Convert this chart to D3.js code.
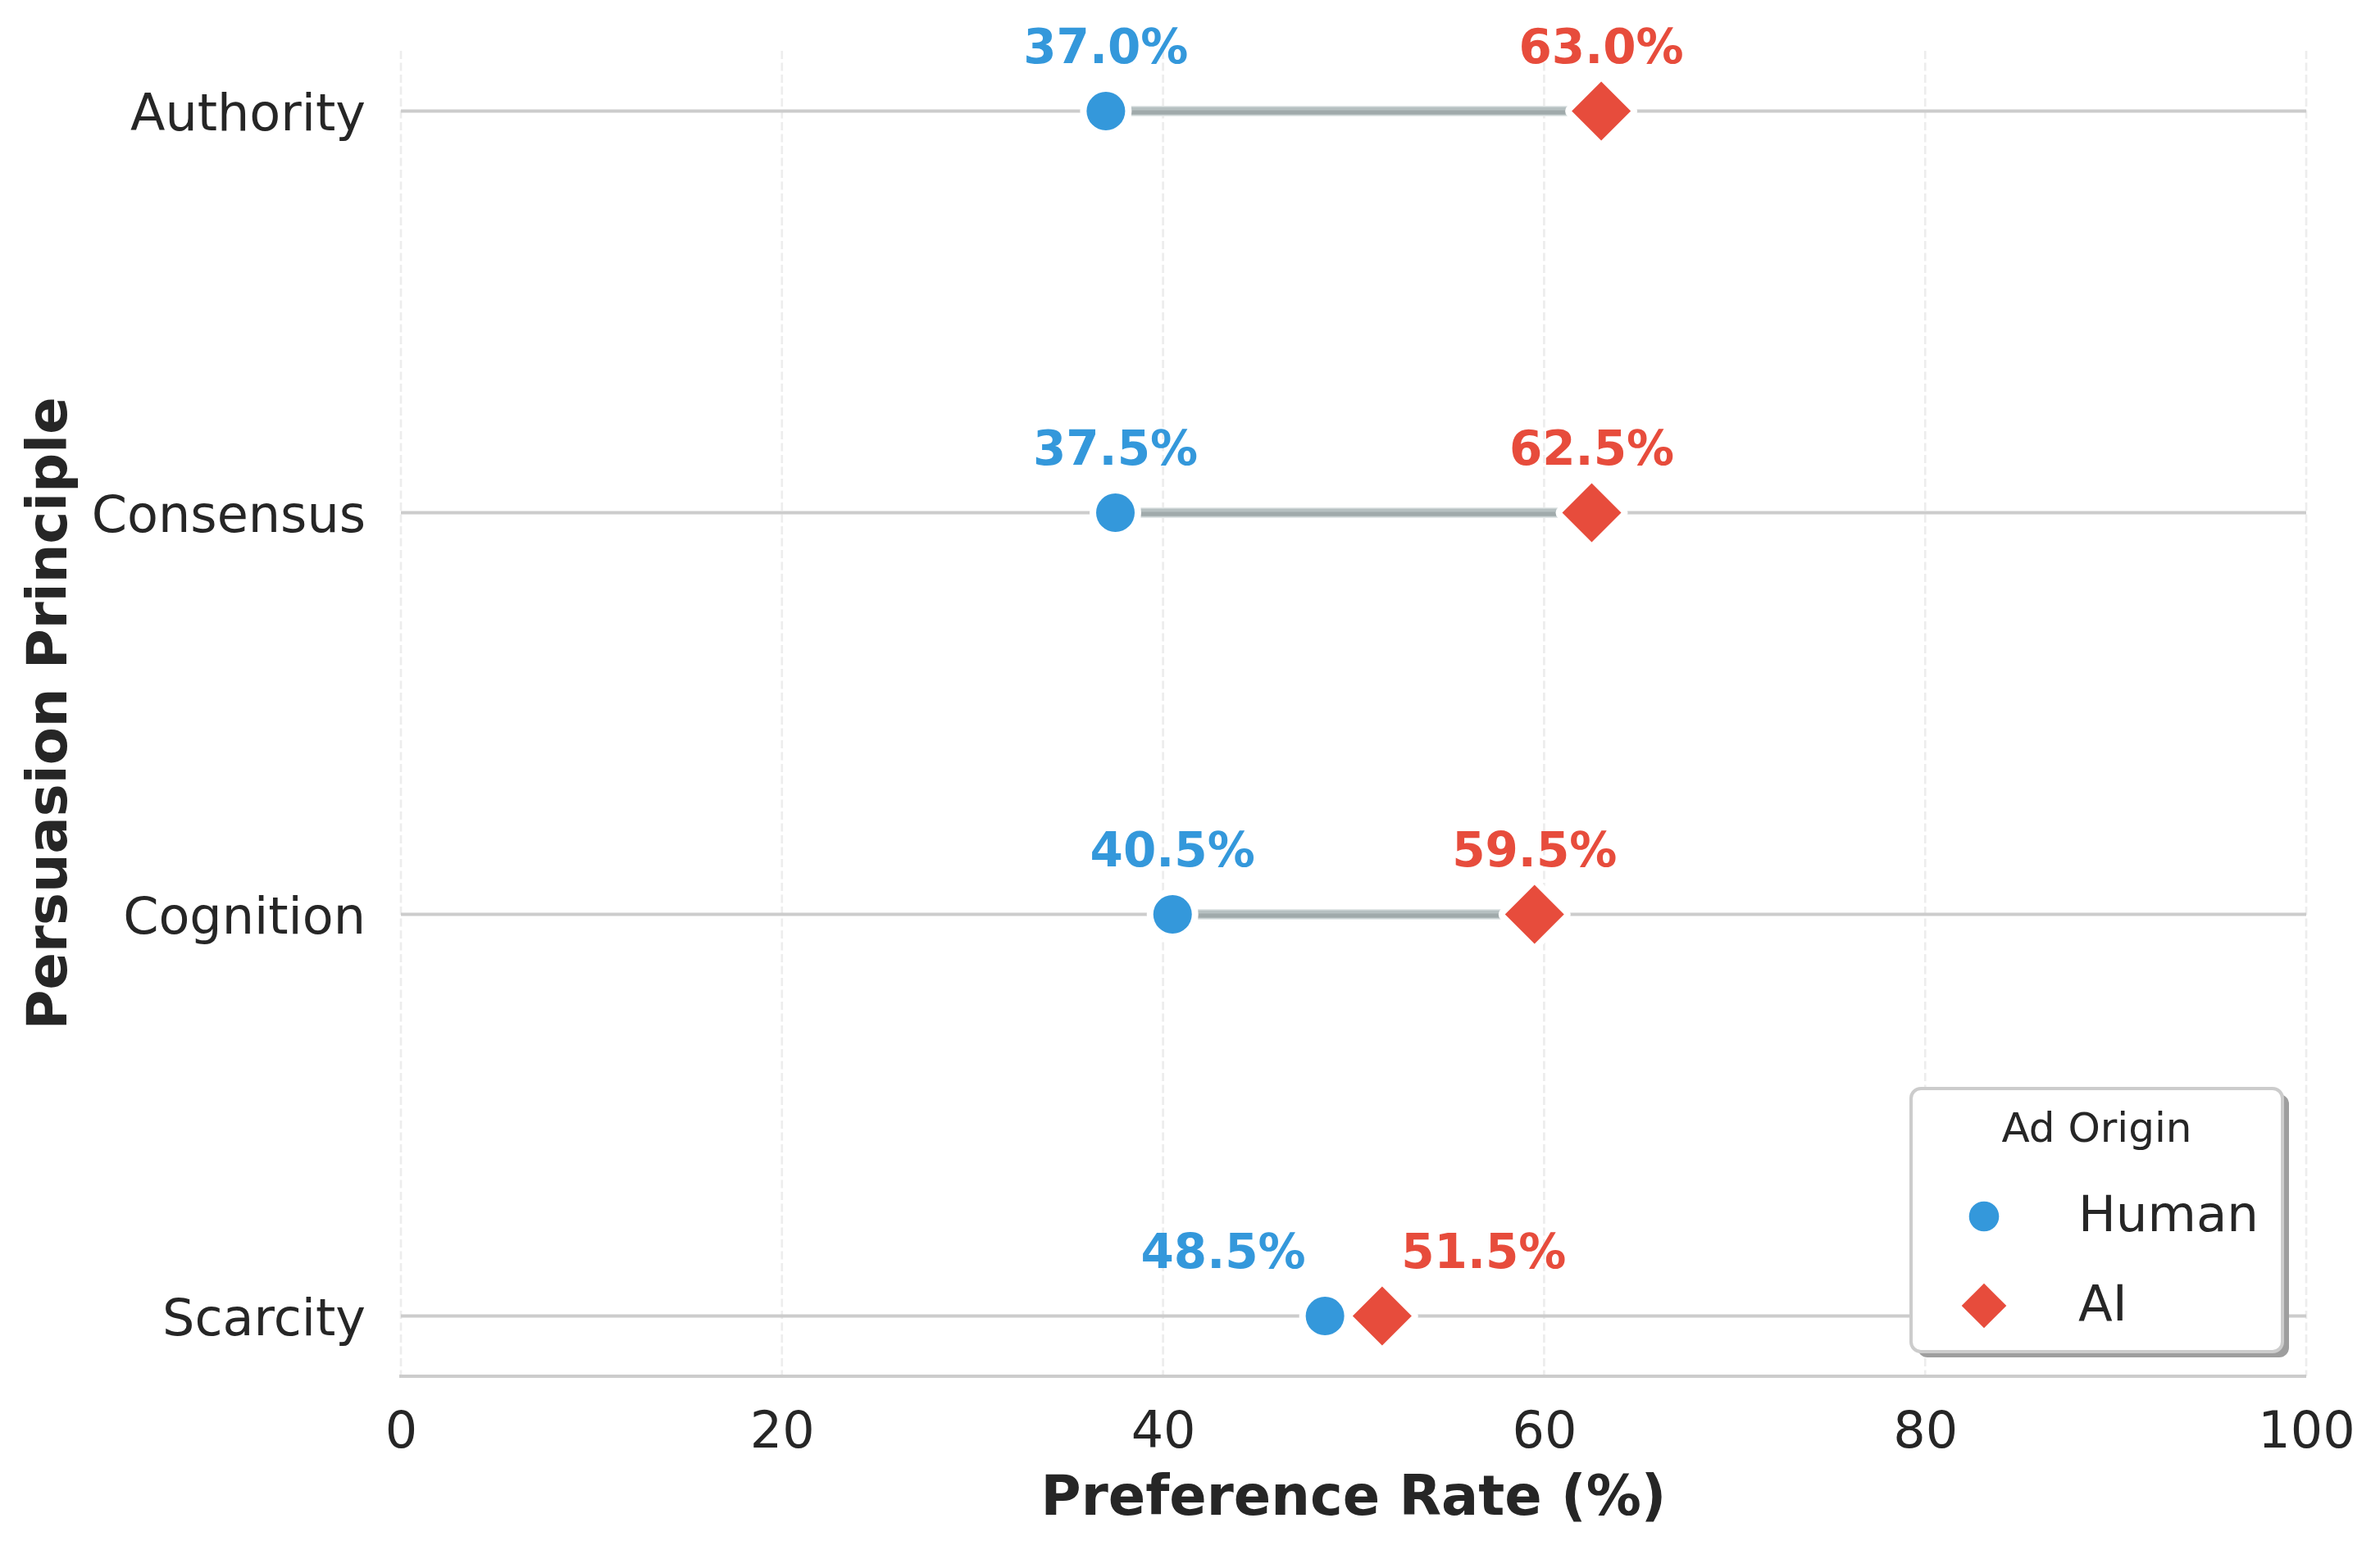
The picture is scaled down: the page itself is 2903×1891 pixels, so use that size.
<!DOCTYPE html>
<html lang="en">
<head>
    <meta charset="UTF-8">
    <title>Preference Rate by Persuasion Principle</title>
    <style>
        body { margin: 0; background: #ffffff; }
        svg text { font-family: "DejaVu Sans", sans-serif; fill: #262626; }
    </style>
</head>
<body>
    <svg id="chart"></svg>
    <script src="https://d3js.org/d3.v7.min.js"></script>
    <script>
    // data
    const principles = ["Authority", "Consensus", "Cognition", "Scarcity"];
    const human_rates = [37.0, 37.5, 40.5, 48.5];
    const ai_rates = [63.0, 62.5, 59.5, 51.5];
    const x_ticks = [0, 20, 40, 60, 80, 100];
    const series_names = ["Human", "AI"];

    const W = 2903, H = 1891;
    const plot = {left: 489, right: 2813, top: 62, bottom: 1679};
    const blue = "#3498db", red = "#e74c3c";

    const svg = d3.select("#chart").attr("width", W).attr("height", H);
    svg.append("rect").attr("width", W).attr("height", H).attr("fill", "#ffffff");

    const x_scale = d3.scaleLinear().domain([0, 100]).range([plot.left, plot.right]);
    const y_scale = d3.scalePoint().domain(principles)
        .range([plot.top, plot.bottom]).padding(0.15);

    // dashed vertical grid
    svg.append("g").selectAll("line").data(x_ticks).join("line")
        .attr("x1", d => x_scale(d)).attr("x2", d => x_scale(d))
        .attr("y1", plot.top).attr("y2", plot.bottom)
        .attr("stroke", "#ededed").attr("stroke-width", 2.7)
        .attr("stroke-dasharray", "10,4.5");

    // row guide lines
    svg.append("g").selectAll("line").data(principles).join("line")
        .attr("x1", plot.left).attr("x2", plot.right)
        .attr("y1", d => y_scale(d)).attr("y2", d => y_scale(d))
        .attr("stroke", "#cccccc").attr("stroke-width", 4);

    // bottom spine
    svg.append("line")
        .attr("x1", plot.left - 2).attr("x2", plot.right)
        .attr("y1", plot.bottom).attr("y2", plot.bottom)
        .attr("stroke", "#cccccc").attr("stroke-width", 4);

    // x axis
    let x_axis = svg.append("g")
        .attr("transform", "translate(0," + plot.bottom + ")")
        .call(d3.axisBottom(x_scale).tickValues(x_ticks).tickSize(0).tickFormat(d3.format("d")));
    x_axis.select(".domain").remove();
    x_axis.selectAll("text")
        .attr("y", 87).attr("dy", null)
        .style("font-size", "62px").style("font-family", "DejaVu Sans").attr("fill", "#262626");

    // y axis
    let y_axis = svg.append("g")
        .attr("transform", "translate(" + plot.left + ",0)")
        .call(d3.axisLeft(y_scale).tickSize(0));
    y_axis.select(".domain").remove();
    y_axis.selectAll("text")
        .attr("x", -43).attr("dy", "0.37em")
        .style("font-size", "62px").style("font-family", "DejaVu Sans").attr("fill", "#262626");

    // axis titles
    svg.append("text")
        .attr("x", (plot.left + plot.right) / 2).attr("y", 1848)
        .attr("text-anchor", "middle")
        .style("font-size", "67px").style("font-weight", "bold")
        .text("Preference Rate (%)");

    svg.append("text")
        .attr("transform", "translate(81," + (plot.top + plot.bottom) / 2 + ") rotate(-90)")
        .attr("text-anchor", "middle")
        .style("font-size", "67px").style("font-weight", "bold")
        .text("Persuasion Principle");

    const rows = principles.map((p, i) => ({name: p, human: human_rates[i], ai: ai_rates[i]}));

    // connectors (light body with a darker shadow stripe)
    let conn = svg.append("g");
    conn.selectAll("line.edge").data(rows).join("line").attr("class", "edge")
        .attr("x1", d => x_scale(d.human)).attr("x2", d => x_scale(d.ai))
        .attr("y1", d => y_scale(d.name)).attr("y2", d => y_scale(d.name))
        .attr("stroke", "#e3e8e8").attr("stroke-width", 13).attr("stroke-linecap", "round");
    conn.selectAll("line.body").data(rows).join("line").attr("class", "body")
        .attr("x1", d => x_scale(d.human)).attr("x2", d => x_scale(d.ai))
        .attr("y1", d => y_scale(d.name)).attr("y2", d => y_scale(d.name))
        .attr("stroke", "#b6c0c1").attr("stroke-width", 10);
    conn.selectAll("line.shade").data(rows).join("line").attr("class", "shade")
        .attr("x1", d => x_scale(d.human)).attr("x2", d => x_scale(d.ai))
        .attr("y1", d => y_scale(d.name) + 1.5).attr("y2", d => y_scale(d.name) + 1.5)
        .attr("stroke", "#a0aaab").attr("stroke-width", 5);

    const diamond = r => "M0," + (-r) + "L" + r + ",0L0," + r + "L" + (-r) + ",0Z";

    // markers with white edge
    svg.append("g").selectAll("circle").data(rows).join("circle")
        .attr("cx", d => x_scale(d.human)).attr("cy", d => y_scale(d.name))
        .attr("r", 23.5)
        .attr("fill", blue).attr("stroke", "#ffffff").attr("stroke-width", 16)
        .attr("paint-order", "stroke");

    svg.append("g").selectAll("path").data(rows).join("path")
        .attr("transform", d => "translate(" + x_scale(d.ai) + "," + y_scale(d.name) + ")")
        .attr("d", diamond(36))
        .attr("fill", red).attr("stroke", "#ffffff").attr("stroke-width", 16)
        .attr("stroke-linejoin", "round").attr("paint-order", "stroke");

    // value labels, pushed apart when the two points sit close
    const nudge = d => (x_scale(d.ai) - x_scale(d.human) < 200 ? 124 : 0);
    let labels = svg.append("g").style("font-size", "58px").style("font-weight", "bold")
        .attr("text-anchor", "middle");
    labels.selectAll("text.h").data(rows).join("text").attr("class", "h")
        .attr("x", d => x_scale(d.human) - nudge(d)).attr("y", d => y_scale(d.name) - 59)
        .style("fill", blue)
        .text(d => d.human.toFixed(1) + "%");
    labels.selectAll("text.a").data(rows).join("text").attr("class", "a")
        .attr("x", d => x_scale(d.ai) + nudge(d)).attr("y", d => y_scale(d.name) - 59)
        .style("fill", red)
        .text(d => d.ai.toFixed(1) + "%");

    // legend
    const leg = {x: 2331, y: 1328, w: 453, h: 321};
    let legend = svg.append("g");
    legend.append("rect")
        .attr("x", leg.x + 8).attr("y", leg.y + 7).attr("width", leg.w).attr("height", leg.h)
        .attr("rx", 12).attr("fill", "#9e9e9e");
    legend.append("rect")
        .attr("x", leg.x).attr("y", leg.y).attr("width", leg.w).attr("height", leg.h)
        .attr("rx", 12).attr("fill", "#ffffff").attr("stroke", "#cccccc").attr("stroke-width", 4);
    legend.append("text")
        .attr("x", leg.x + leg.w / 2).attr("y", 1393)
        .attr("text-anchor", "middle").style("font-size", "50px")
        .text("Ad Origin");

    const legend_y = [1484, 1593];
    const legend_colors = [blue, red];
    let items = legend.selectAll("g.item").data(series_names).join("g").attr("class", "item")
        .attr("transform", (d, i) => "translate(0," + legend_y[i] + ")");
    items.each(function(d, i) {
        let g = d3.select(this);
        if (i === 0) {
            g.append("circle").attr("cx", 2420).attr("cy", 0).attr("r", 18.3).attr("fill", legend_colors[i]);
        } else {
            g.append("path").attr("transform", "translate(2420,0)").attr("d", diamond(27.3)).attr("fill", legend_colors[i]);
        }
        g.append("text").attr("x", 2535).attr("y", 18)
            .style("font-size", "61px").text(d);
    });
    </script>
</body>
</html>
